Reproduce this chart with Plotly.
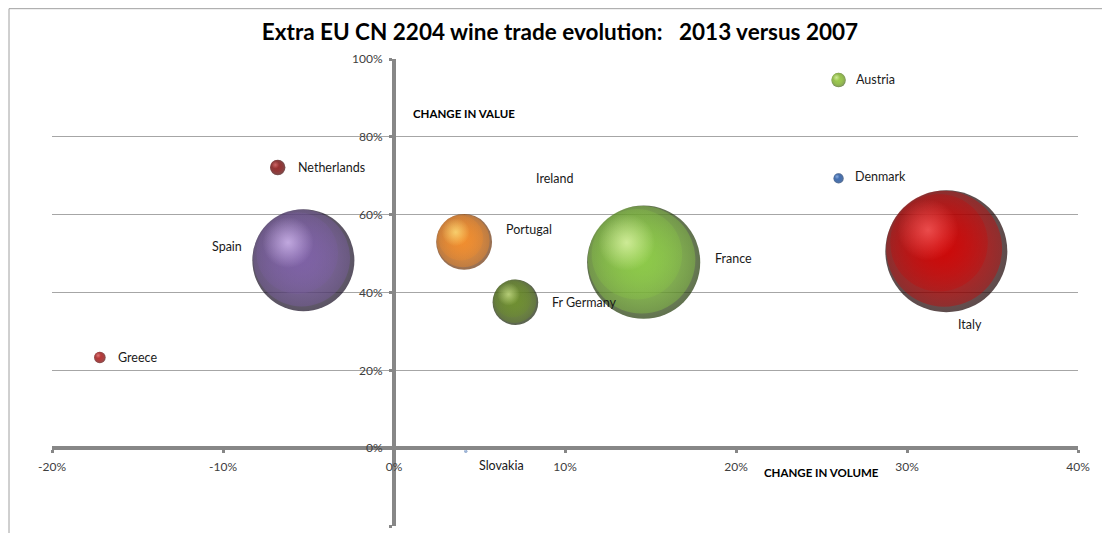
import math
import plotly.graph_objects as go

# ---- data -------------------------------------------------------------
countries = ["Austria", "Denmark", "Netherlands", "Greece", "Spain", "Portugal",
             "Fr Germany", "France", "Italy", "Ireland", "Slovakia"]
change_volume = [0.260, 0.260, -0.068, -0.172, -0.053, 0.041, 0.071, 0.146, 0.323, 0.077, 0.042]
change_value = [0.946, 0.693, 0.721, 0.233, 0.483, 0.530, 0.375, 0.478, 0.506, 0.693, -0.008]
trade_size = [1.4, 0.7, 1.6, 0.9, 70.0, 21.0, 14.0, 86.0, 100.0, 0.0, 0.07]

x_tick_vals = [-0.2, -0.1, 0.0, 0.1, 0.2, 0.3, 0.4]
x_tick_text = ["-20%", "-10%", "0%", "10%", "20%", "30%", "40%"]
y_tick_vals = [-0.2, 0.0, 0.2, 0.4, 0.6, 0.8, 1.0]
y_tick_text = ["-20%", "0%", "20%", "40%", "60%", "80%", "100%"]

# ---- styles -----------------------------------------------------------
# (edge colour, body colour, highlight colour)
palette = {
    "Austria": ("#3e5c10", "#9ccc48", "#e8fcb8"),
    "Denmark": ("#163058", "#3c6cb4", "#a8c8f4"),
    "Netherlands": ("#360808", "#962828", "#e88080"),
    "Greece": ("#420a0a", "#bc3030", "#f49494"),
    "Spain": ("#140a20", "#7c5ea6", "#e4ccff"),
    "Portugal": ("#6a3006", "#f48c28", "#fff08a"),
    "Fr Germany": ("#142004", "#6c8e2a", "#d8ec98"),
    "France": ("#1e3604", "#8ccc44", "#f0ffbc"),
    "Italy": ("#180000", "#d00000", "#ff6a6a"),
    "Ireland": ("#3a3a3a", "#888888", "#dddddd"),
    "Slovakia": ("#6080b0", "#9cb4d8", "#dde8f8"),
}
# label offsets in pixels relative to the bubble centre: (xshift, yshift, xanchor)
label_pos = {
    "Austria": (15, 1, "left"),
    "Denmark": (14, 2, "left"),
    "Netherlands": (18, 0, "left"),
    "Greece": (16, 0, "left"),
    "Spain": (-59, 14, "right"),
    "Portugal": (40, 12, "left"),
    "Fr Germany": (35, 0, "left"),
    "France": (69, 4, "left"),
    "Italy": (10, -73, "left"),
    "Ireland": (8, 0, "left"),
    "Slovakia": (11, -14, "left"),
}

FONT = "Lato"
MAX_D = 122.0
W, H = 1102, 533
ML, MR, MT, MB = 52, 24, 59, 7
PW, PH = 1026, 464
XR = (-0.2, 0.4)
YR = (-0.2, 1.0)
px_per_x = PW / (XR[1] - XR[0])
px_per_y = PH / (YR[1] - YR[0])

smax = max(trade_size)
sizeref = 2.0 * smax / MAX_D ** 2


def hex_rgb(hx):
    return tuple(int(hx[i:i + 2], 16) for i in (1, 3, 5))


def rgba(hx, a):
    r, g, b = hex_rgb(hx)
    return f"rgba({r},{g},{b},{a})"


def mix(h1, h2, t):
    a, b = hex_rgb(h1), hex_rgb(h2)
    return "#" + "".join(f"{round(a[i] * (1 - t) + b[i] * t):02x}" for i in range(3))


fig = go.Figure()

# base spheres: dark shell
fig.add_trace(go.Scatter(
    x=change_volume, y=change_value, mode="markers",
    marker=dict(
        size=trade_size, sizemode="area", sizeref=sizeref, sizemin=0,
        color=[palette[c][0] for c in countries],
        gradient=dict(type="radial", color=[mix(palette[c][1], palette[c][0], 0.35) for c in countries]),
        line=dict(width=0),
    ),
    hoverinfo="text", text=countries, showlegend=False,
))

# body layers and highlight, shifted toward the upper-left of each sphere
layers = [  # (size factor, offset factor, centre alpha, edge alpha, colour index)
    (0.95, 0.018, 1.0, 0.55, 1),
    (0.80, 0.060, 1.0, 0.35, 1),
    (0.50, 0.150, 0.95, 0.0, 2),
]
for sf, of, ca, ea, ci in layers:
    lx, ly, ls, lc, le = [], [], [], [], []
    for c, xv, yv, s in zip(countries, change_volume, change_value, trade_size):
        if s <= 0:
            continue
        d = MAX_D * math.sqrt(s / smax)
        lx.append(xv - of * d / px_per_x)
        ly.append(yv + of * 1.15 * d / px_per_y)
        ls.append(d * sf)
        lc.append(rgba(palette[c][ci], ca))
        le.append(rgba(palette[c][ci], ea))
    fig.add_trace(go.Scatter(
        x=lx, y=ly, mode="markers",
        marker=dict(size=ls, sizemode="diameter", color=le,
                    gradient=dict(type="radial", color=lc), line=dict(width=0)),
        hoverinfo="skip", showlegend=False,
    ))

annotations = []
for c, xv, yv in zip(countries, change_volume, change_value):
    dx, dy, anc = label_pos[c]
    annotations.append(dict(
        x=xv, y=yv, xref="x", yref="y", text=c, showarrow=False,
        xanchor=anc, yanchor="middle", xshift=dx, yshift=dy,
        font=dict(family=FONT, size=12.5, color="#1a1a1a"),
    ))
annotations.append(dict(
    x=(464 - ML) / PW, y=(MT + PH - 113) / PH, xref="paper", yref="paper",
    text="<b>CHANGE IN VALUE</b>", showarrow=False, xanchor="center", yanchor="middle",
    font=dict(family=FONT, size=11.5, color="#000000"),
))
annotations.append(dict(
    x=(821 - ML) / PW, y=(MT + PH - 470) / PH, xref="paper", yref="paper",
    text="<b>CHANGE IN VOLUME</b>", showarrow=False, xanchor="center", yanchor="middle",
    font=dict(family=FONT, size=11.5, color="#000000"),
))

AXIS_GRAY = "#878787"
fig.update_layout(
    width=W, height=H,
    margin=dict(l=ML, r=MR, t=MT, b=MB, pad=0),
    paper_bgcolor="white", plot_bgcolor="white",
    title=dict(
        text="<b>Extra EU CN 2204 wine trade evolution:   2013 versus 2007</b>",
        x=560 / W, xref="container", xanchor="center",
        y=1 - 32 / H, yref="container", yanchor="middle",
        font=dict(family=FONT, size=22.5, color="#000000"),
    ),
    xaxis=dict(
        range=list(XR), tickvals=x_tick_vals, ticktext=x_tick_text,
        showgrid=False, zeroline=False,
        anchor="free", position=(0 - YR[0]) / (YR[1] - YR[0]),
        showline=True, linecolor=AXIS_GRAY, linewidth=4,
        ticks="outside", ticklen=3, tickwidth=3, tickcolor=AXIS_GRAY,
        ticklabelstandoff=3,
        tickfont=dict(family=FONT, size=12, color="#404040"),
    ),
    yaxis=dict(
        range=list(YR), tickvals=y_tick_vals, ticktext=y_tick_text,
        showgrid=True, gridcolor="#a6a6a6", gridwidth=1, zeroline=False,
        anchor="free", position=(0 - XR[0]) / (XR[1] - XR[0]),
        showline=True, linecolor=AXIS_GRAY, linewidth=4,
        ticks="outside", ticklen=3, tickwidth=3, tickcolor=AXIS_GRAY,
        ticklabelstandoff=4,
        tickfont=dict(family=FONT, size=12, color="#404040"),
    ),
    annotations=annotations,
    shapes=[dict(
        type="rect", xref="paper", yref="paper",
        x0=(9 - ML) / PW, x1=1.1, y0=-0.1, y1=(MT + PH - 9) / PH,
        line=dict(color="#a0a0a0", width=1), fillcolor="rgba(0,0,0,0)", layer="below",
    )],
)

fig.write_html(
    "out.html",
    config={"displayModeBar": False},
    post_script="document.body.style.margin='0';document.body.style.overflow='hidden';",
)
